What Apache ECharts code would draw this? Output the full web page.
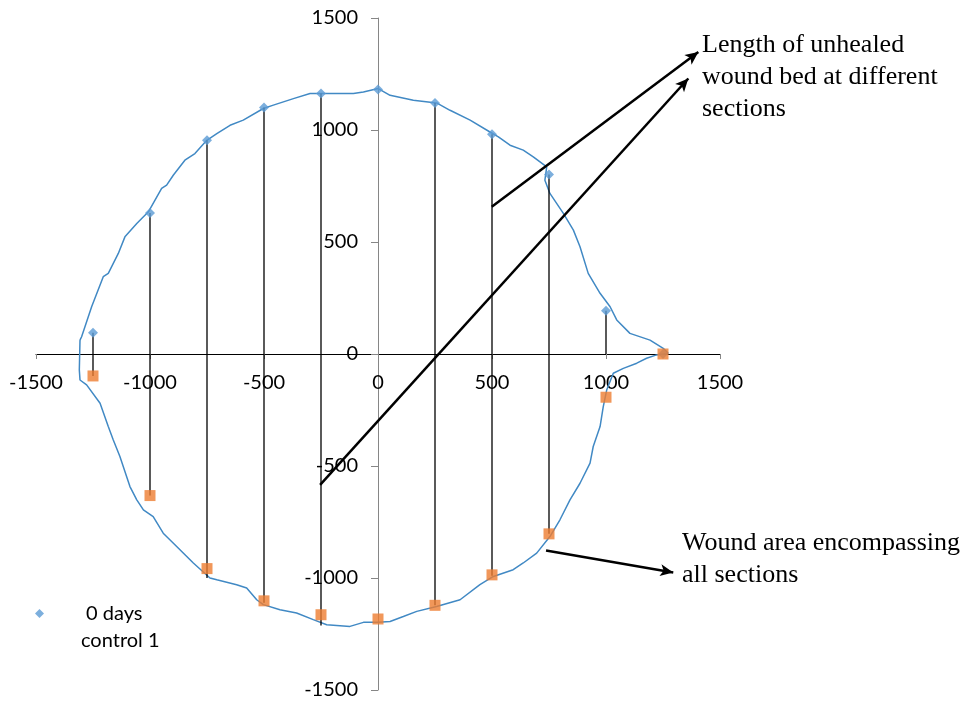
<!DOCTYPE html>
<html><head><meta charset="utf-8">
<script src="https://cdn.jsdelivr.net/npm/echarts@6/dist/echarts.min.js"></script>
<style>html,body{margin:0;padding:0;background:#fff}#c{width:964px;height:702px}</style>
</head><body><div id="c"></div>
<script>
// Section x positions and the upper / lower edge readings of the wound bed
const sectionX = [-1250, -1000, -750, -500, -250, 0, 250, 500, 750, 1000, 1250];
const upperY   = [95, 630, 954, 1100, 1163, 1181, 1121, 981, 801, 193, 0];
const lowerY   = [-98, -632, -958, -1102, -1164, -1183, -1122, -986, -803, -193, 0];

// Black section lines (length of unhealed wound bed)
const lineX      = [-1250, -1000, -750, -500, -250, 250, 500, 750, 1000];
const lineTop    = [95, 630, 954, 1100, 1163, 1121, 981, 801, 193];
const lineBottom = [-98, -632, -1000, -1110, -1212, -1122, -990, -803, 0];

// Traced wound outline (closed curve)
const outlinePoints = [
  [-1307,62],[-1300,77],[-1256,211],[-1205,345],[-1183,360],[-1139,449],[-1110,523],[-1058,583],
  [-1007,635],[-949,739],[-927,754],[-898,798],[-847,865],[-803,895],[-751,954],[-707,984],
  [-649,1021],[-591,1044],[-503,1096],[-459,1111],[-371,1140],[-298,1163],[-240,1163],[-108,1163],
  [-64,1170],[1,1185],
  [53,1155],[155,1133],[257,1121],[316,1088],[404,1044],[491,991],[528,969],[579,932],[637,910],
  [681,880],[740,835],[732,776],[754,717],[813,628],[857,553],[886,479],[922,360],[974,271],
  [1018,211],[1047,152],[1105,92],[1193,62],[1251,25],[1273,3],
  [1222,-4],[1178,-19],[1135,-41],[1076,-64],[1032,-86],[1003,-161],[988,-235],[974,-324],
  [944,-413],[930,-487],[886,-577],[842,-651],[798,-740],[754,-815],[696,-889],[637,-933],
  [593,-963],[506,-993],[447,-1030],[360,-1097],[257,-1127],[170,-1149],[111,-1172],[53,-1194],[1,-1198],
  [-64,-1198],[-123,-1216],[-225,-1209],[-284,-1186],[-357,-1156],[-430,-1142],[-503,-1119],
  [-532,-1097],[-576,-1045],[-620,-1030],[-707,-1008],[-737,-1000],[-810,-933],[-883,-859],
  [-942,-800],[-986,-726],[-1029,-696],[-1058,-651],[-1088,-592],[-1132,-458],[-1161,-384],
  [-1183,-324],[-1219,-220],[-1278,-138],[-1307,-116],[-1310,-71],[-1307,62]
];

// Axis ticks
const axisMin = -1500, axisMax = 1500, axisStep = 500;

const seriesName = '0 days control 1';

const GRID = {left: 36, right: 244, top: 18, bottom: 12};
const W = 964, H = 702;
const gridW = W - GRID.left - GRID.right, gridH = H - GRID.top - GRID.bottom;

const chart = echarts.init(document.getElementById('c'), null, {renderer: 'canvas'});
const axisFont = {fontFamily: 'Lato', fontSize: 20, color: '#000', formatter: v => String(v)};

chart.setOption({
  animation: false,
  backgroundColor: '#fff',
  grid: Object.assign({containLabel: false, outerBoundsMode: 'none'}, GRID),
  xAxis: {
    type: 'value', min: axisMin, max: axisMax, interval: axisStep,
    position: 'bottom',
    // place the axis (line, ticks, labels) on y = 0
    offset: -gridH * (0 - axisMin) / (axisMax - axisMin),
    axisLine: {onZero: false, lineStyle: {color: '#000', width: 1}},
    axisTick: {show: true, length: 5, lineStyle: {color: '#868686'}},
    axisLabel: Object.assign({margin: 19}, axisFont),
    splitLine: {show: false}
  },
  yAxis: {
    type: 'value', min: axisMin, max: axisMax, interval: axisStep,
    position: 'left',
    offset: -gridW * (0 - axisMin) / (axisMax - axisMin),
    axisLine: {onZero: false, lineStyle: {color: '#868686', width: 1}},
    axisTick: {show: true, length: 7, lineStyle: {color: '#868686'}},
    axisLabel: Object.assign({margin: 20}, axisFont),
    splitLine: {show: false}
  },
  legend: {
    data: [{name: seriesName, icon: 'diamond'}],
    left: 35, top: 573, padding: 0,
    itemWidth: 9, itemHeight: 9,
    formatter: () => '\n 0 days\ncontrol 1',
    textStyle: {fontFamily: 'Lato', fontSize: 20, color: '#000', lineHeight: 27, padding: [0, 0, 0, 32]}
  },
  series: [
    {
      name: 'outline', type: 'line', data: outlinePoints, showSymbol: false, smooth: false,
      lineStyle: {color: '#4189c4', width: 1.5}, z: 2, silent: true
    },
    {
      name: 'sections', type: 'custom', z: 3, silent: true,
      data: lineX.map((x, i) => [x, lineTop[i], lineBottom[i]]),
      renderItem: (params, api) => {
        const a = api.coord([api.value(0), api.value(1)]);
        const b = api.coord([api.value(0), api.value(2)]);
        return {type: 'line', shape: {x1: a[0], y1: a[1], x2: b[0], y2: b[1]},
                style: {stroke: '#000', lineWidth: 1.3}};
      }
    },
    {
      name: seriesName, type: 'scatter', symbol: 'diamond', symbolSize: 10, z: 4,
      data: sectionX.map((x, i) => [x, upperY[i]]),
      itemStyle: {color: '#5B9BD5'}
    },
    {
      name: 'lower', type: 'scatter', symbol: 'rect', symbolSize: 11, z: 5,
      data: sectionX.map((x, i) => [x, lowerY[i]]),
      itemStyle: {color: '#ED7D31'}
    },
    {
      name: 'arrows', type: 'line', data: [], z: 6, silent: true,
      markLine: {
        silent: true, symbol: ['none', 'arrow'], symbolSize: [9, 13],
        label: {show: false},
        lineStyle: {color: '#000', width: 2.5, type: 'solid'},
        data: [
          [{coord: [499, 657]}, {coord: [1405, 1348]}],
          [{coord: [-254, -584]}, {coord: [1361, 1230]}],
          [{coord: [737, -877]}, {coord: [1295, -975]}]
        ]
      }
    }
  ],
  graphic: [
    {type: 'text', left: 702, top: 29, silent: true,
     style: {text: 'Length of unhealed\nwound bed at different\nsections',
             font: '26px "Liberation Serif"', lineHeight: 32, fill: '#000'}},
    {type: 'text', left: 682, top: 527, silent: true,
     style: {text: 'Wound area encompassing\nall sections',
             font: '26px "Liberation Serif"', lineHeight: 32, fill: '#000'}}
  ]
});
</script></body></html>
